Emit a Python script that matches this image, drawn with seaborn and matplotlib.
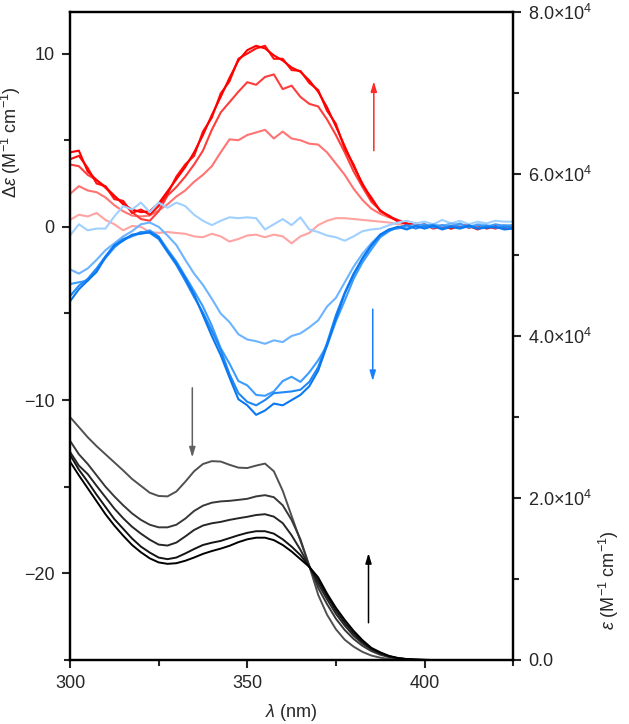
import seaborn as sns
import matplotlib.pyplot as plt
import matplotlib.ticker as mticker
import numpy as np
import pandas as pd

# wavelength grid (nm), 2.5 nm steps from 300 to 425
wavelength = [300 + 2.5 * i for i in range(51)]

# CD spectra, delta epsilon (M-1 cm-1)
cd_red_1 = [0.4, 0.7, 0.6, 0.8, 0.4, 0.15, -0.2, 0.05, 0.0, -0.3, -0.35, -0.3, -0.35, -0.4, -0.55,
            -0.6, -0.4, -0.55, -0.85, -0.7, -0.5, -0.45, -0.6, -0.45, -0.55, -0.95, -0.55, -0.35, 0.1,
            0.35, 0.5, 0.5, 0.45, 0.4, 0.35, 0.3, 0.25, 0.15, 0.05, 0.05, 0.0, 0.05, -0.05, 0.05, 0.0,
            0.05, -0.05, 0.0, 0.05, -0.05, 0.0]
cd_red_2 = [1.9, 2.35, 2.1, 2.0, 1.7, 1.25, 0.9, 0.65, 0.6, 0.65, 0.95, 1.3, 1.75, 2.1, 2.6,
            3.0, 3.5, 4.3, 5.05, 5.0, 5.3, 5.45, 5.6, 5.1, 5.5, 5.1, 5.0, 4.8, 4.75,
            4.3, 3.65, 3.0, 2.2, 1.55, 1.05, 0.75, 0.55, 0.35, 0.15, 0.1, 0.0, 0.1, -0.05, 0.05, 0.1,
            -0.05, 0.05, 0.0, 0.1, -0.05, 0.05]
cd_red_3 = [3.6, 3.5, 3.0, 2.7, 2.25, 1.75, 1.4, 0.85, 0.45, 0.35, 0.9, 1.8, 2.3, 2.9, 3.6,
            4.4, 5.6, 6.6, 7.2, 7.8, 8.35, 8.2, 8.65, 8.8, 7.95, 8.15, 7.5, 7.1, 6.95,
            6.2, 5.3, 4.3, 3.2, 2.3, 1.45, 0.95, 0.6, 0.4, 0.2, 0.05, 0.1, -0.05, 0.1, -0.1, 0.05,
            0.1, -0.1, 0.05, -0.05, 0.05, -0.1]
cd_red_4 = [3.9, 4.1, 3.4, 2.5, 2.35, 1.6, 1.5, 0.8, 1.0, 0.7, 1.2, 1.9, 2.9, 3.6, 4.1,
            5.5, 6.3, 7.7, 8.4, 9.7, 10.0, 10.3, 10.45, 9.7, 9.7, 9.05, 9.0, 8.3, 7.9,
            6.7, 5.95, 4.5, 3.6, 2.4, 1.7, 0.9, 0.65, 0.3, 0.2, 0.05, 0.15, -0.1, 0.05, -0.1, 0.1,
            0.05, -0.15, 0.05, -0.1, 0.1, -0.05]
cd_red_5 = [4.3, 4.4, 3.2, 2.7, 2.3, 1.8, 1.3, 1.0, 0.85, 0.9, 1.35, 2.05, 2.75, 3.45, 4.3,
            5.3, 6.45, 7.5, 8.6, 9.6, 10.2, 10.45, 10.3, 9.9, 9.6, 9.2, 8.95, 8.45, 7.8,
            6.9, 5.8, 4.65, 3.5, 2.5, 1.6, 0.95, 0.6, 0.35, 0.15, 0.2, -0.05, 0.1, -0.1, 0.05, 0.15,
            -0.05, 0.1, -0.1, 0.05, -0.05, 0.0]
cd_blue_1 = [-0.5, 0.15, -0.2, -0.1, -0.1, 0.6, 1.2, 1.0, 1.4, 0.85, 1.4, 1.1, 1.4, 1.2, 0.7,
             0.35, 0.1, 0.35, 0.55, 0.5, 0.55, 0.5, -0.15, 0.15, 0.45, 0.1, 0.55, -0.15, -0.3,
             -0.5, -0.6, -0.8, -0.55, -0.25, -0.15, -0.1, 0.1, 0.25, 0.35, 0.2, 0.3, 0.15, 0.4, 0.2, 0.35,
             0.15, 0.3, 0.2, 0.35, 0.3, 0.3]
cd_blue_2 = [-2.45, -2.7, -2.4, -1.9, -1.35, -0.95, -0.55, -0.25, 0.15, 0.25, 0.0, -0.5, -1.05, -1.9, -2.7,
             -3.35, -4.15, -5.0, -5.5, -6.2, -6.5, -6.6, -6.75, -6.55, -6.65, -6.3, -6.15, -5.8, -5.4,
             -4.6, -4.1, -3.2, -2.3, -1.55, -0.95, -0.45, -0.15, -0.1, 0.05, 0.1, 0.0, 0.15, 0.05, 0.2, 0.1,
             0.0, 0.15, 0.1, 0.0, 0.1, 0.05]
cd_blue_3 = [-3.3, -3.2, -3.1, -2.45, -1.8, -1.2, -0.75, -0.55, -0.35, -0.2, -0.55, -1.3, -2.0, -2.85, -3.7,
             -4.6, -5.7, -7.0, -7.9, -8.9, -9.15, -9.7, -9.75, -9.5, -8.9, -8.65, -8.95, -8.4, -7.7,
             -6.85, -5.45, -4.25, -3.0, -2.05, -1.3, -0.6, -0.25, 0.0, -0.1, 0.05, 0.15, -0.05, 0.1, 0.0, 0.2,
             -0.05, 0.1, 0.0, 0.15, 0.05, 0.1]
cd_blue_4 = [-4.0, -3.4, -3.0, -2.4, -1.7, -1.05, -0.7, -0.5, -0.3, -0.35, -0.7, -1.45, -2.2, -3.1, -4.05,
             -4.95, -6.0, -7.1, -8.5, -9.6, -10.1, -10.3, -10.0, -9.6, -9.55, -9.5, -9.4, -8.95, -8.1,
             -6.7, -5.1, -3.8, -2.7, -1.85, -1.1, -0.5, -0.2, -0.05, 0.1, -0.1, 0.05, 0.1, -0.1, 0.05, -0.05,
             0.1, -0.1, 0.05, -0.05, 0.0, -0.05]
cd_blue_5 = [-4.3, -3.6, -3.1, -2.6, -1.75, -1.1, -0.8, -0.45, -0.4, -0.3, -0.6, -1.4, -2.1, -2.95, -3.9,
             -5.1, -6.3, -7.4, -8.7, -9.95, -10.3, -10.85, -10.6, -10.2, -10.3, -10.0, -9.7, -9.2, -8.3,
             -6.85, -5.3, -3.85, -2.75, -1.8, -1.05, -0.45, -0.15, 0.0, -0.15, 0.05, -0.1, 0.05, -0.15, 0.0, -0.1,
             0.05, -0.1, -0.05, 0.0, -0.15, -0.1]

# absorption spectra, epsilon (M-1 cm-1)
abs_1 = [30000, 28750, 27500, 26400, 25400, 24400, 23400, 22350, 21500, 20650, 20250, 20200, 20800, 22000, 23300,
         24200, 24550, 24500, 24100, 23750, 23700, 24000, 24250, 23300, 20900, 17800, 14700, 11600, 8050,
         5600, 3800, 2500, 1650, 1000, 550, 290, 120, 50, 15, 0, 0, 0, 0, 0, 0,
         0, 0, 0, 0, 0, 0]
abs_2 = [27070, 25400, 24200, 22800, 21400, 20200, 19100, 18100, 17300, 16700, 16380, 16380, 16700, 17450, 18400,
         19050, 19420, 19580, 19650, 19770, 19900, 20200, 20350, 20100, 19100, 17300, 14900, 11600, 8900,
         6900, 5100, 3700, 2600, 1750, 1100, 650, 350, 170, 70, 25, 5, 0, 0, 0, 0,
         0, 0, 0, 0, 0, 0]
abs_3 = [25700, 24000, 22950, 21500, 20100, 18700, 17500, 16450, 15600, 14850, 14250, 14130, 14500, 15250, 16050,
         16600, 16880, 17050, 17300, 17500, 17680, 17900, 18000, 17700, 16900, 15400, 13600, 11550, 9400,
         7500, 5700, 4250, 3000, 2050, 1300, 800, 430, 210, 90, 35, 10, 0, 0, 0, 0,
         0, 0, 0, 0, 0, 0]
abs_4 = [25340, 23500, 22000, 20400, 18900, 17400, 16200, 15000, 14000, 13260, 12650, 12450, 12650, 13150, 13700,
         14200, 14480, 14700, 15050, 15400, 15700, 15900, 15900, 15600, 14900, 14000, 12950, 11500, 9800,
         7900, 6100, 4600, 3300, 2250, 1400, 880, 470, 230, 100, 40, 12, 0, 0, 0, 0,
         0, 0, 0, 0, 0, 0]
abs_5 = [24500, 22800, 21200, 19600, 18000, 16600, 15350, 14200, 13300, 12550, 12050, 11870, 11950, 12250, 12650,
         13100, 13450, 13750, 14100, 14550, 14900, 15100, 15100, 14800, 14200, 13400, 12450, 11500, 10200,
         8200, 6450, 4950, 3600, 2450, 1500, 950, 500, 250, 120, 50, 15, 0, 0, 0, 0,
         0, 0, 0, 0, 0, 0]

cd_series = {'r1': cd_red_1, 'r2': cd_red_2, 'r3': cd_red_3, 'r4': cd_red_4, 'r5': cd_red_5,
             'b1': cd_blue_1, 'b2': cd_blue_2, 'b3': cd_blue_3, 'b4': cd_blue_4, 'b5': cd_blue_5}
cd_colors = {'r1': '#ffa3a3', 'r2': '#ff7373', 'r3': '#ff3d3d', 'r4': '#ff1010', 'r5': '#ff0000',
             'b1': '#a0d0ff', 'b2': '#6cb4ff', 'b3': '#3c9cff', 'b4': '#1f88f5', 'b5': '#0a78f0'}
abs_series = {'a1': abs_1, 'a2': abs_2, 'a3': abs_3, 'a4': abs_4, 'a5': abs_5}
abs_colors = {'a1': '#505050', 'a2': '#383838', 'a3': '#262626', 'a4': '#141414', 'a5': '#000000'}

cd_df = pd.concat([pd.DataFrame({'wl': wavelength, 'val': v, 'series': k}) for k, v in cd_series.items()])
abs_df = pd.concat([pd.DataFrame({'wl': wavelength, 'val': v, 'series': k}) for k, v in abs_series.items()])

sns.set_style('ticks')
plt.rcParams['font.family'] = ['Liberation Sans', 'DejaVu Sans']
plt.rcParams['mathtext.fontset'] = 'custom'
plt.rcParams['mathtext.rm'] = 'Liberation Sans'
plt.rcParams['mathtext.it'] = 'Liberation Sans:italic'

fig = plt.figure(figsize=(6.29, 7.24), dpi=100)
ax = fig.add_axes([0.1113, 0.0884, 0.7045, 0.895])

sns.lineplot(data=cd_df, x='wl', y='val', hue='series', palette=cd_colors, legend=False,
             linewidth=1.5, ax=ax)
ax.set_xlim(300, 425)
ax.set_ylim(-25, 12.4)
ax.set_xticks([300, 350, 400])
ax.xaxis.set_minor_locator(mticker.MultipleLocator(25))
ax.set_yticks([-20, -10, 0, 10])
ax.yaxis.set_minor_locator(mticker.MultipleLocator(5))
ax.yaxis.set_major_formatter(mticker.FuncFormatter(lambda v, p: f'{int(v)}'.replace('-', '\u2212')))
ax.set_xlabel(r'$\lambda$ (nm)', fontsize=13)
ax.set_ylabel(r'$\Delta\varepsilon$ (M$^{-1}$ cm$^{-1}$)', fontsize=13)
ax.yaxis.set_label_coords(-0.106, 0.80)
ax.xaxis.set_label_coords(0.5, -0.065)

ax2 = ax.twinx()
sns.lineplot(data=abs_df, x='wl', y='val', hue='series', palette=abs_colors, legend=False,
             linewidth=1.4, ax=ax2)
ax2.set_ylim(0, 80000)
ax2.set_yticks([0, 20000, 40000, 60000, 80000])
ax2.yaxis.set_minor_locator(mticker.MultipleLocator(10000))
ax2.yaxis.set_major_formatter(mticker.FuncFormatter(
    lambda v, p: '0.0' if v == 0 else f'{v / 1e4:.1f}\u00d710$^{{4}}$'))
ax2.set_ylabel(r'$\varepsilon$ (M$^{-1}$ cm$^{-1}$)', fontsize=13, rotation=90)
ax2.yaxis.set_label_coords(1.19, 0.123)

for a in (ax, ax2):
    for s in a.spines.values():
        s.set_linewidth(1.6)
        s.set_color('black')
    a.tick_params(which='major', direction='out', length=6, width=1.5, labelsize=13, pad=5)
    a.tick_params(which='minor', direction='out', length=4, width=1.5)
ax.tick_params(axis='both', which='both', top=False, right=False)

# arrows marking the titration trend
arrow_kw = dict(arrowstyle='-|>,head_length=0.6,head_width=0.18', lw=1.1, shrinkA=0, shrinkB=0)
ax.annotate('', xy=(385.7, 8.4), xytext=(385.7, 4.4),
            arrowprops=dict(color='#ff2a2a', **arrow_kw))
ax.annotate('', xy=(385.4, -8.9), xytext=(385.4, -4.75),
            arrowprops=dict(color='#1a80ff', **arrow_kw))
ax2.annotate('', xy=(334.5, 25000), xytext=(334.5, 33600),
             arrowprops=dict(color='#606060', **arrow_kw))
ax2.annotate('', xy=(384.2, 13200), xytext=(384.2, 4600),
             arrowprops=dict(color='#000000', **arrow_kw))

fig.savefig('out.png', dpi=100)
